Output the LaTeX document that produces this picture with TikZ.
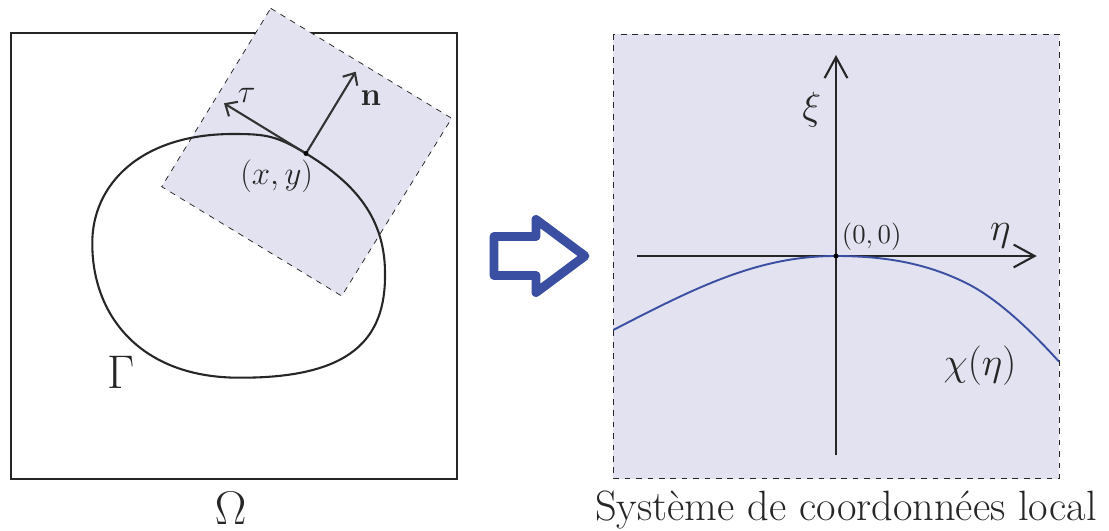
\documentclass[tikz,border=0pt]{standalone}
\usetikzlibrary{arrows.meta}
\definecolor{patchfill}{RGB}{226,226,240}
\definecolor{chiblue}{RGB}{58,78,162}
\tikzstyle{frame}=[draw=black!85,line width=1.1pt]
\tikzstyle{patch}=[fill=patchfill,draw=black!85,dashed,line width=0.4pt]
\tikzstyle{curve}=[draw=black!85,line width=1.1pt]
\tikzstyle{chi}=[draw=chiblue,line width=1pt]
\tikzstyle{vec}=[draw=black!80,line width=1.1pt,-{Straight Barb[length=5pt,width=9pt]}]
\tikzstyle{axis}=[draw=black!85,line width=1.1pt,-{Straight Barb[length=11pt,width=12pt]}]
\tikzstyle{bigarrow}=[draw=chiblue,line width=4.7pt,line join=round]
\tikzstyle{lbl}=[inner sep=0pt,text=black!85]

\begin{document}
\begin{tikzpicture}[x=0.0185cm,y=-0.0185cm]
\useasboundingbox (0,0) rectangle (1109,531);
% domaine et patch local
\draw[frame] (11,33) rectangle (457,479);
\path[patch] (270.7,8.3) -- (451.7,118.3) -- (341.7,296) -- (161.7,186.7) -- cycle;
\coordinate (P) at (306,153.5);
\coordinate (tau) at (224,103.3);
\coordinate (nor) at (355.7,71.7);
\draw[curve] (P) .. controls (348.7,179.5) and (385,213) .. (385,273)
  .. controls (386,340) and (350,378) .. (240,377.7)
  .. controls (140,378) and (92,315) .. (92.3,243.3)
  .. controls (92,185) and (140,134) .. (233,134)
  .. controls (265,134) and (276.1,135.3) .. (P);
\foreach \dest in {tau,nor}
\draw[vec] (P) -- (\dest);
\fill[black] (P) circle (1.3pt);
\node[lbl,font=\LARGE] (taulbl) at (246.7,95.5) {$\tau$};
\node[lbl,font=\LARGE] (nlbl) at (370.8,98.3) {$\mathbf{n}$};
\node[lbl,font=\LARGE] (xylbl) at (276.7,175.8) {$(x,y)$};
\node[lbl,font=\Huge] (gamma) at (120.8,372.2) {$\Gamma$};
\node[lbl,font=\Huge,anchor=base] (omega) at (230.7,524) {$\Omega$};
% fleche
\draw[bigarrow] (494,236.5) -- (536,236.5) -- (536,219.5) -- (585,256)
  -- (536,292.5) -- (536,275.5) -- (494,275.5) -- cycle;
% repere local
\path[patch] (613.3,34) rectangle (1059,478.7);
\coordinate (O) at (836,256);
\coordinate (xibot) at (836,455);
\coordinate (xitop) at (836,55);
\coordinate (etaleft) at (636.7,256);
\coordinate (etaright) at (1036.7,256);
\draw[axis] (xibot) -- (xitop);
\draw[axis] (etaleft) -- (etaright);
\draw[chi] (613.3,330) .. controls (700,285) and (760,256) .. (O)
  .. controls (890,256) and (930,265) .. (966.7,283.3)
  .. controls (1000,300) and (1035,335) .. (1059,361.7);
\fill[black] (O) circle (1.3pt);
\node[lbl,font=\huge] (xi) at (811.7,109.2) {$\xi$};
\node[lbl,font=\huge] (eta) at (1000.3,235.8) {$\eta$};
\node[lbl,font=\Large] (origin) at (871.7,236.7) {$(0,0)$};
\node[lbl,font=\huge] (chilbl) at (980,366) {$\chi(\eta)$};
\node[lbl,font=\fontsize{22.3}{26}\selectfont,anchor=base] (local) at (846,520) {Système de coordonnées local};
\end{tikzpicture}
\end{document}
